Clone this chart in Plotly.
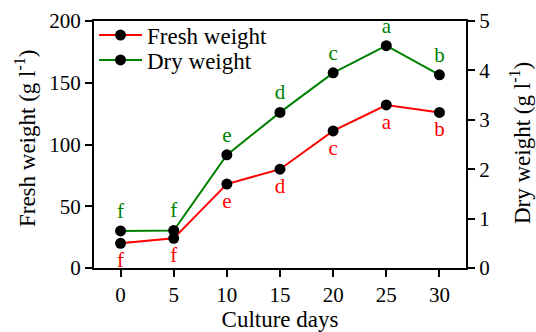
import plotly.graph_objects as go

days = [0, 5, 10, 15, 20, 25, 30]
fresh = [20, 24, 68, 80, 111, 132, 126]
dry = [0.75, 0.76, 2.29, 3.15, 3.95, 4.5, 3.91]
fresh_letters = ["f", "f", "e", "d", "c", "a", "b"]
dry_letters = ["f", "f", "e", "d", "c", "a", "b"]

FONT = "Liberation Serif, Times New Roman, serif"
RED = "#ff0000"
GREEN = "#008000"

fig = go.Figure()
fig.add_trace(go.Scatter(
    x=days, y=fresh, name="Fresh weight", mode="lines+markers+text",
    line=dict(color=RED, width=2),
    marker=dict(color="black", size=11),
    text=fresh_letters, textposition="bottom center",
    textfont=dict(color=RED, size=21, family=FONT),
    legend="legend",
))
fig.add_trace(go.Scatter(
    x=days, y=dry, name="Dry weight", mode="lines+markers+text", yaxis="y2",
    line=dict(color=GREEN, width=2),
    marker=dict(color="black", size=11),
    text=dry_letters, textposition="top center",
    textfont=dict(color=GREEN, size=21, family=FONT),
    legend="legend2",
))

axis_common = dict(
    showline=True, linecolor="black", linewidth=2,
    ticks="outside", ticklen=7, tickwidth=2, tickcolor="black",
    showgrid=False, zeroline=False, automargin=False,
    tickfont=dict(size=21, color="black", family=FONT),
)

leg_common = dict(x=0.0, xanchor="left", yanchor="middle",
                  font=dict(size=23, family=FONT), bgcolor="rgba(0,0,0,0)",
                  itemwidth=43)

fig.update_layout(
    width=536, height=332,
    margin=dict(l=94, r=70, t=21, b=64),
    plot_bgcolor="white", paper_bgcolor="white",
    font=dict(family=FONT, color="black", size=21),
    showlegend=True,
    legend=dict(y=0.943, **leg_common),
    legend2=dict(y=0.842, **leg_common),
    xaxis=dict(range=[-2.5, 32.5], tickvals=days, mirror=True,
               title=dict(text="Culture days", font=dict(size=23, family=FONT)),
               **axis_common),
    yaxis=dict(range=[0, 200], tickvals=[0, 50, 100, 150, 200], **axis_common),
    yaxis2=dict(range=[0, 5], tickvals=[0, 1, 2, 3, 4, 5], overlaying="y", side="right",
                **axis_common),
    annotations=[
        dict(text="Fresh weight (g l<sup>-1</sup>)", xref="paper", yref="paper",
             x=-0.1855, y=0.526, xanchor="center", yanchor="middle", textangle=-90,
             showarrow=False, font=dict(size=23, family=FONT, color="black")),
        dict(text="Dry weight (g l<sup>-1</sup>)", xref="paper", yref="paper",
             x=1.1452, y=0.506, xanchor="center", yanchor="middle", textangle=-90,
             showarrow=False, font=dict(size=23, family=FONT, color="black")),
    ],
)

fig.write_html("out.html")
